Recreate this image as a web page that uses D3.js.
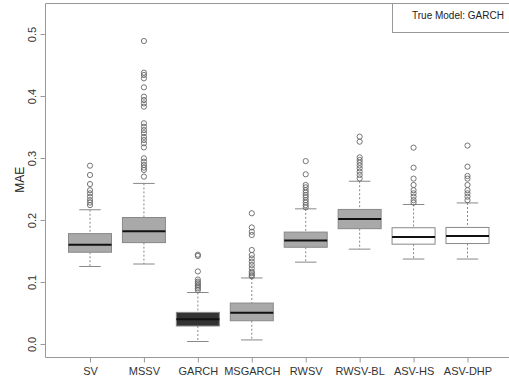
<!DOCTYPE html>
<html>
<head>
<meta charset="utf-8">
<script src="https://cdn.jsdelivr.net/npm/d3@7"></script>
<style>
  body { margin: 0; background: #fff; }
  text { font-family: "Liberation Sans", Arial, sans-serif; }
</style>
</head>
<body>
<script>

// values
var categories = ["SV", "MSSV", "GARCH", "MSGARCH", "RWSV", "RWSV-BL", "ASV-HS", "ASV-DHP"];
var whiskerLo = [0.125, 0.129, 0.004, 0.0065, 0.132, 0.153, 0.137, 0.137];
var q1 = [0.148, 0.1635, 0.029, 0.0375, 0.156, 0.186, 0.161, 0.162];
var median = [0.160, 0.182, 0.040, 0.0505, 0.167, 0.2015, 0.1725, 0.174];
var q3 = [0.178, 0.204, 0.051, 0.066, 0.1805, 0.217, 0.1875, 0.188];
var whiskerHi = [0.2165, 0.259, 0.083, 0.1065, 0.218, 0.2625, 0.225, 0.2275];
var outliers = [
    [0.2876, 0.2726, 0.258, 0.248, 0.243, 0.2376, 0.232, 0.228, 0.224],
    [0.4887, 0.4376, 0.4339, 0.4285, 0.414, 0.399, 0.3935, 0.388, 0.3828, 0.356, 0.3505,
     0.345, 0.340, 0.334, 0.329, 0.3237, 0.317, 0.2995, 0.294, 0.2887, 0.2844, 0.2806, 0.2699],
    [0.144, 0.142, 0.117, 0.104, 0.1005, 0.098, 0.095, 0.0925, 0.0898, 0.087],
    [0.2108, 0.188, 0.181, 0.1758, 0.1516, 0.1435, 0.138, 0.1328, 0.1274, 0.122, 0.1166,
     0.114, 0.111, 0.109],
    [0.295, 0.2737, 0.2565, 0.2527, 0.248, 0.244, 0.240, 0.2366, 0.232, 0.228, 0.224, 0.2204],
    [0.3344, 0.3263, 0.301, 0.2968, 0.2925, 0.288, 0.2833, 0.2779, 0.2726, 0.267],
    [0.3167, 0.2844, 0.2667, 0.2565, 0.248, 0.243, 0.2376, 0.232, 0.228],
    [0.320, 0.286, 0.271, 0.2667, 0.2565, 0.248, 0.243, 0.2376, 0.232]
];
var yTicks = [0.0, 0.1, 0.2, 0.3, 0.4, 0.5];
var legendText = "True Model: GARCH";
var yLabel = "MAE";

// box fills, one per model
var fills = ["#a9a9a9", "#a9a9a9", "#333333", "#a9a9a9", "#a9a9a9", "#a9a9a9", "#ffffff", "#ffffff"];

var W = 509, H = 381;
var plotLeft = 45, plotTop = 3, plotBottom = 357;

var svg = d3.select("body")
    .append("svg")
        .attr("width", W)
        .attr("height", H);

var y = d3.scaleLinear()
    .domain([-0.021, 0.55])
    .range([plotBottom, plotTop]);

var x = d3.scalePoint()
    .domain(categories)
    .range([90, 467.5]);

var boxW = 43;

// plot frame (right edge runs off the picture)
svg.append("path")
    .attr("d", "M" + (W + 2) + "," + (plotTop + 0.5) + "H" + (plotLeft + 0.5) + "V" + (plotBottom + 0.5) + "H" + (W + 2))
    .attr("fill", "none")
    .attr("stroke", "#999")
    .attr("stroke-width", 1);

// axes
var yAxis = svg.append("g")
    .attr("transform", "translate(" + (plotLeft + 0.5) + ",0)")
    .call(d3.axisLeft(y).tickValues(yTicks).tickFormat(d3.format(".1f")).tickSize(5));

yAxis.select(".domain").remove();
yAxis.selectAll(".tick line").attr("stroke", "#999");
yAxis.selectAll(".tick text")
    .attr("fill", "#333")
    .style("font-size", "11px")
    .attr("x", 0)
    .attr("dy", 0)
    .attr("transform", "translate(-10,0) rotate(-90)")
    .attr("text-anchor", "middle");

var xAxis = svg.append("g")
    .attr("transform", "translate(0," + (plotBottom + 0.5) + ")")
    .call(d3.axisBottom(x).tickSize(5).tickPadding(5));

xAxis.select(".domain").remove();
xAxis.selectAll(".tick line").attr("stroke", "#999");
xAxis.selectAll(".tick text")
    .attr("fill", "#333")
    .style("font-size", "11px");

svg.append("text")
    .attr("transform", "translate(24," + y(0.265) + ") rotate(-90)")
    .attr("text-anchor", "middle")
    .attr("fill", "#222")
    .style("font-size", "12px")
    .text(yLabel);

// boxes
var g = svg.append("g")
    .selectAll("g")
    .data(categories)
    .enter()
    .append("g");

g.append("line")
    .attr("x1", function (d) { return x(d); })
    .attr("x2", function (d) { return x(d); })
    .attr("y1", function (d, i) { return y(whiskerHi[i]); })
    .attr("y2", function (d, i) { return y(q3[i]); })
    .attr("stroke", "#888")
    .attr("stroke-dasharray", "2,2");

g.append("line")
    .attr("x1", function (d) { return x(d); })
    .attr("x2", function (d) { return x(d); })
    .attr("y1", function (d, i) { return y(q1[i]); })
    .attr("y2", function (d, i) { return y(whiskerLo[i]); })
    .attr("stroke", "#888")
    .attr("stroke-dasharray", "2,2");

[whiskerLo, whiskerHi].forEach(function (arr) {
    g.append("line")
        .attr("x1", function (d) { return x(d) - boxW / 4; })
        .attr("x2", function (d) { return x(d) + boxW / 4; })
        .attr("y1", function (d, i) { return y(arr[i]); })
        .attr("y2", function (d, i) { return y(arr[i]); })
        .attr("stroke", "#888");
});

g.append("rect")
    .attr("x", function (d) { return x(d) - boxW / 2; })
    .attr("width", boxW)
    .attr("y", function (d, i) { return y(q3[i]); })
    .attr("height", function (d, i) { return y(q1[i]) - y(q3[i]); })
    .attr("fill", function (d, i) { return fills[i]; })
    .attr("stroke", "#888");

g.append("line")
    .attr("x1", function (d) { return x(d) - boxW / 2; })
    .attr("x2", function (d) { return x(d) + boxW / 2; })
    .attr("y1", function (d, i) { return y(median[i]); })
    .attr("y2", function (d, i) { return y(median[i]); })
    .attr("stroke", "#111")
    .attr("stroke-width", 2);

g.each(function (d, i) {
    d3.select(this).selectAll("circle")
        .data(outliers[i])
        .enter()
        .append("circle")
            .attr("cx", x(d))
            .attr("cy", function (v) { return y(v); })
            .attr("r", 2.6)
            .attr("fill", "none")
            .attr("stroke", "#666")
            .attr("stroke-width", 0.9);
});

// legend box in the top right corner
svg.append("rect")
    .attr("x", 392.5)
    .attr("y", plotTop + 0.5)
    .attr("width", 130)
    .attr("height", 29)
    .attr("fill", "#fff")
    .attr("stroke", "#999");

svg.append("text")
    .attr("x", 412)
    .attr("y", 19)
    .attr("fill", "#222")
    .style("font-size", "10px")
    .text(legendText);

</script>
</body>
</html>
